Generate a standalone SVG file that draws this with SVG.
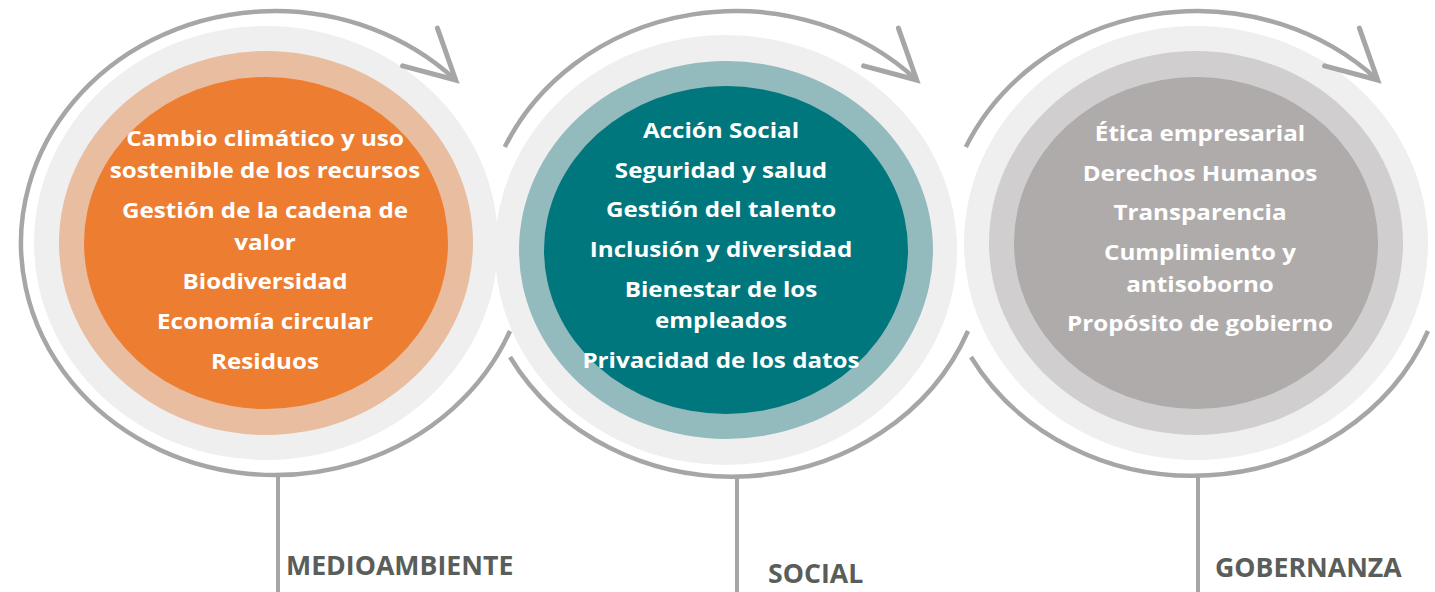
<svg xmlns="http://www.w3.org/2000/svg" width="1435" height="592" viewBox="0 0 1435 592">
<defs>
<style>
.arc{fill:none;stroke:#a6a6a6;stroke-width:4.5}
.arrow{fill:none;stroke:#a6a6a6;stroke-width:5;stroke-linecap:round;stroke-linejoin:miter}
.stem{stroke:#a6a6a6;stroke-width:4}
.halo{fill:#efefef}
.item{font-family:"Open Sans","Noto Sans","Liberation Sans",sans-serif;font-weight:700;font-size:22px;fill:#ffffff;text-anchor:middle}
.label{font-family:"Open Sans","Noto Sans","Liberation Sans",sans-serif;font-weight:700;font-size:26.7px;fill:#5a5e5a}
</style>
</defs>
<rect width="1435" height="592" fill="#ffffff"/>

<g id="node-medioambiente">
<ellipse class="halo" cx="266" cy="243" rx="232" ry="217"/>
<ellipse cx="266" cy="243" rx="207" ry="192" fill="#e9bda0"/>
<ellipse cx="266" cy="243" rx="182" ry="166" fill="#ed7d31"/>
<g transform="translate(265,0) scale(1.1,1)">
<text class="item" x="0" y="146">Cambio climático y uso</text>
<text class="item" x="0" y="178">sostenible de los recursos</text>
<text class="item" x="0" y="218">Gestión de la cadena de</text>
<text class="item" x="0" y="250">valor</text>
<text class="item" x="0" y="289">Biodiversidad</text>
<text class="item" x="0" y="329">Economía circular</text>
<text class="item" x="0" y="369">Residuos</text>
</g>
</g>

<g id="node-social">
<ellipse class="halo" cx="726" cy="250" rx="231" ry="215"/>
<ellipse cx="726" cy="250" rx="207" ry="189" fill="#93babd"/>
<ellipse cx="726" cy="250" rx="182" ry="164" fill="#00767d"/>
<g transform="translate(721,0) scale(1.1,1)">
<text class="item" x="0" y="138">Acción Social</text>
<text class="item" x="0" y="178">Seguridad y salud</text>
<text class="item" x="0" y="217">Gestión del talento</text>
<text class="item" x="0" y="257">Inclusión y diversidad</text>
<text class="item" x="0" y="297">Bienestar de los</text>
<text class="item" x="0" y="328">empleados</text>
<text class="item" x="0" y="368">Privacidad de los datos</text>
</g>
</g>

<g id="node-gobernanza">
<ellipse class="halo" cx="1196" cy="243" rx="232" ry="217"/>
<ellipse cx="1196" cy="243" rx="207" ry="192" fill="#d0cece"/>
<ellipse cx="1196" cy="243" rx="182" ry="166" fill="#afabab"/>
<g transform="translate(1200,0) scale(1.1,1)">
<text class="item" x="0" y="141">Ética empresarial</text>
<text class="item" x="0" y="181">Derechos Humanos</text>
<text class="item" x="0" y="220">Transparencia</text>
<text class="item" x="0" y="260">Cumplimiento y</text>
<text class="item" x="0" y="292">antisoborno</text>
<text class="item" x="0" y="331">Propósito de gobierno</text>
</g>
</g>

<g id="connectors">
<path class="arc" d="M510,331 A254,232 0 1 1 455.7,80"/>
<path class="arrow" d="M437.4,28.1 L455.7,80 L402.6,65.8"/>
<path class="arc" d="M504.8,147 A254,232 0 0 1 916.7,80"/>
<path class="arrow" d="M898.4,28.1 L916.7,80 L863.6,65.8"/>
<path class="arc" d="M510,357 A254,232 0 0 0 968,331"/>
<path class="arc" d="M965.8,147 A254,232 0 0 1 1377.7,80"/>
<path class="arrow" d="M1359.4,28.1 L1377.7,80 L1324.6,65.8"/>
<path class="arc" d="M971,357 A254,232 0 0 0 1428,331"/>
<line class="stem" x1="278" y1="474" x2="278" y2="592"/>
<line class="stem" x1="737" y1="476" x2="737" y2="592"/>
<line class="stem" x1="1198" y1="476" x2="1198" y2="592"/>
</g>

<g id="labels">
<text class="label" x="286" y="575">MEDIOAMBIENTE</text>
<text class="label" x="768" y="583">SOCIAL</text>
<text class="label" x="1215" y="577">GOBERNANZA</text>
</g>
</svg>
